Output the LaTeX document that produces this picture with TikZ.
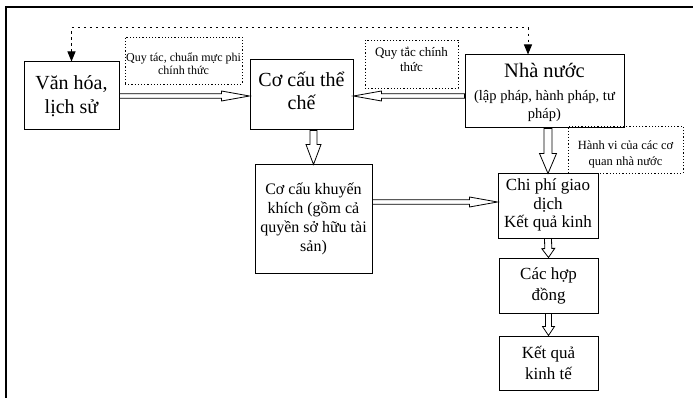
\documentclass[tikz,border=0pt]{standalone}
\usepackage{fontspec}
\setmainfont{Liberation Serif}
\usetikzlibrary{calc,arrows.meta}
\tikzset{
  box/.style={draw, line width=1pt, inner sep=0pt, align=center},
  txt/.style={inner sep=0pt, align=center},
  dotbox/.style={draw, line width=0.8pt, dash pattern=on 1.2pt off 2pt, inner sep=0pt},
  hollow/.style={draw, line width=0.8pt, fill=white, line join=miter},
  feedback/.style={line width=1pt, dash pattern=on 2.5pt off 3.5pt,
    {Triangle[length=10pt,width=8pt]}-{Triangle[length=10pt,width=8pt]}},
  frameline/.style={line width=1.4pt},
}
% #1 from, #2 to, #3 shaft half width, #4 head half width, #5 head length
\newcommand\hollowarrow[5]{%
  \path[hollow] ($(#1)!#3!90:(#2)$) -- ($(#2)!#5!(#1)!#3!-90:(#1)$)
    -- ($(#2)!#5!(#1)!#4!-90:(#1)$) -- (#2)
    -- ($(#2)!#5!(#1)!#4!90:(#1)$) -- ($(#2)!#5!(#1)!#3!90:(#1)$)
    -- ($(#1)!#3!-90:(#2)$) -- cycle;}
\begin{document}
\begin{tikzpicture}[x=1pt,y=-1pt]
\useasboundingbox (0,0) rectangle (693,398);
\fill[white] (0,0) rectangle (693,398);
% outer frame (open at right and bottom)
\draw[frameline] (6,398) -- (6,7) -- (693,7);

% main boxes
\node[box, minimum width=95pt, minimum height=68pt, font=\fontsize{20}{24}\selectfont] (van) at (71.5,96) {Văn hóa,\\lịch sử};
\node[box, minimum width=103pt, minimum height=70pt] (inst) at (301.5,95) {};
\node[txt, font=\fontsize{20}{23}\selectfont] (insttext) at (301.5,91) {Cơ cấu thể\\chế};
\node[box, minimum width=159pt, minimum height=73pt] (nha) at (544.5,91.5) {};
\node[txt, font=\fontsize{14.5}{17.5}\selectfont] (nhatext) at (544.5,92)
  {{\fontsize{20.5}{20}\selectfont Nhà nước}\\[6pt](lập pháp, hành pháp, tư\\pháp)};
\node[box, minimum width=117pt, minimum height=108pt, font=\fontsize{16}{19}\selectfont] (khuyen) at (313.5,219)
  {Cơ cấu khuyến\\khích (gồm cả\\quyền sở hữu tài\\sản)};
\node[box, minimum width=100pt, minimum height=64pt] (chiphi) at (548,206) {};
\node[txt, font=\fontsize{17}{18.5}\selectfont] (chiphitext) at (548,205)
  {Chi phí giao\\dịch\\Kết quả kinh};
\node[box, minimum width=99pt, minimum height=55pt, font=\fontsize{17}{21}\selectfont] (hopdong) at (548.5,285.5) {Các hợp\\đồng};
\node[box, minimum width=99pt, minimum height=54pt, font=\fontsize{17}{21}\selectfont] (ketqua) at (548.5,363) {Kết quả\\kinh tế};

% dotted label boxes
\node[dotbox, minimum width=117pt, minimum height=47pt] (q1) at (183.5,60.5) {};
\node[txt, font=\fontsize{12}{13}\selectfont] (q1text) at (183.5,63.5) {Quy tác, chuẩn mực phi\\chính thức};
\node[dotbox, minimum width=93pt, minimum height=48pt] (q2) at (411.5,64) {};
\node[txt, font=\fontsize{13}{15.5}\selectfont] (q2text) at (411.5,59.5) {Quy tắc chính\\thức};
\node[dotbox, minimum width=115pt, minimum height=47pt] (hv) at (625.5,149.5) {};
\node[txt, font=\fontsize{12.5}{16}\selectfont] (hvtext) at (625.5,154) {Hành vi của các cơ\\quan nhà nước};

% feedback dotted connector
\coordinate (fbR) at (528,28);
\draw[feedback] (van.north) -- (van.north |- fbR) -- (fbR) -- (fbR |- nha.north);

% hollow arrows
\coordinate (a1) at (inst.west |- van.east);
\hollowarrow{van.east}{a1}{2.2pt}{5pt}{28pt}
\coordinate (b0) at (nha.west |- van.east);
\coordinate (b1) at (inst.east |- van.east);
\hollowarrow{b0}{b1}{2.2pt}{5pt}{28pt}
\coordinate (c0) at (inst.south -| khuyen.north);
\hollowarrow{c0}{khuyen.north}{3.5pt}{7.5pt}{20pt}
\coordinate (d0) at (khuyen.east |- 0,202);
\coordinate (d1) at (chiphi.west |- 0,202);
\hollowarrow{d0}{d1}{2.2pt}{5pt}{28pt}
\coordinate (e0) at (nha.south -| chiphi.north);
\hollowarrow{e0}{chiphi.north}{4pt}{8.5pt}{20pt}
\hollowarrow{chiphi.south}{hopdong.north}{3.5pt}{6.5pt}{9pt}
\hollowarrow{hopdong.south}{ketqua.north}{3pt}{6pt}{9pt}
\end{tikzpicture}
\end{document}
